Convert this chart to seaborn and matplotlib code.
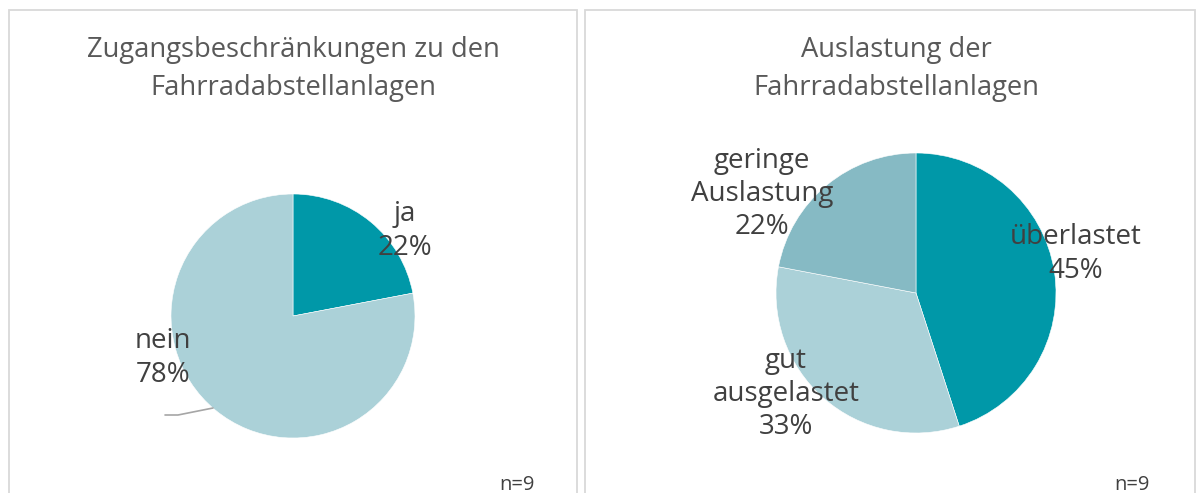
import matplotlib
matplotlib.use("Agg")
import matplotlib.pyplot as plt
import seaborn as sns
from matplotlib.patches import Rectangle

# data
access_labels = ["ja", "nein"]
access_values = [22, 78]
load_labels = ["überlastet", "gut\nausgelastet", "geringe\nAuslastung"]
load_values = [45, 33, 22]
title_left = "Zugangsbeschränkungen zu den\nFahrradabstellanlagen"
title_right = "Auslastung der\nFahrradabstellanlagen"
n_note = "n=9"

sns.set_theme(style="white")
plt.rcParams['font.family'] = ['Open Sans', 'DejaVu Sans']

dark = "#0098A8"
light = "#ABD1D8"
mid = "#86BAC4"
txt = "#404040"
tcol = "#595959"
H = 493

fig = plt.figure(figsize=(12, 4.93), dpi=100)
ax = fig.add_axes([0, 0, 1, 1])

# panel frames
for x0, x1 in [(9, 577), (585, 1195)]:
    ax.add_patch(Rectangle((x0, -20), x1 - x0, H - 10 + 20, fill=False,
                           edgecolor="#D9D9D9", linewidth=1.3))

# left pie
ax.pie(access_values, colors=[dark, light], startangle=90, counterclock=False,
       center=(293, H - 316), radius=122, frame=True,
       wedgeprops=dict(linewidth=0.4, edgecolor="white"))
left_pos = [(405, 231), (163, 358)]
for lab, val, (x, y) in zip(access_labels, access_values, left_pos):
    ax.text(x, H - y, f"{lab}\n{val}%", ha="center", va="center",
            fontsize=20, color=txt, linespacing=1.25)
ax.plot([165, 178, 213], [H - 415, H - 415, H - 408], color="#A6A6A6", lw=1.2)

# right pie
ax.pie(load_values, colors=[dark, light, mid], startangle=90, counterclock=False,
       center=(916, H - 293), radius=140, frame=True,
       wedgeprops=dict(linewidth=0.4, edgecolor="white"))
right_pos = [(1076, 254), (786, 394), (762, 194)]
for lab, val, (x, y) in zip(load_labels, load_values, right_pos):
    ax.text(x, H - y, f"{lab}\n{val}%", ha="center", va="center",
            fontsize=20, color=txt, linespacing=1.25)

ax.set_xlim(0, 1200)
ax.set_ylim(0, H)
ax.set_aspect("equal")
ax.axis("off")

# titles
ax.text(293, H - 69, title_left, ha="center", va="center", fontsize=19.7,
        color=tcol, linespacing=1.45)
ax.text(896, H - 69, title_right, ha="center", va="center", fontsize=19.7,
        color=tcol, linespacing=1.45)
ax.text(517, H - 485, n_note, ha="center", va="center", fontsize=14.5, color=txt)
ax.text(1132, H - 485, n_note, ha="center", va="center", fontsize=14.5, color=txt)

fig.savefig("out.png", dpi=100)
